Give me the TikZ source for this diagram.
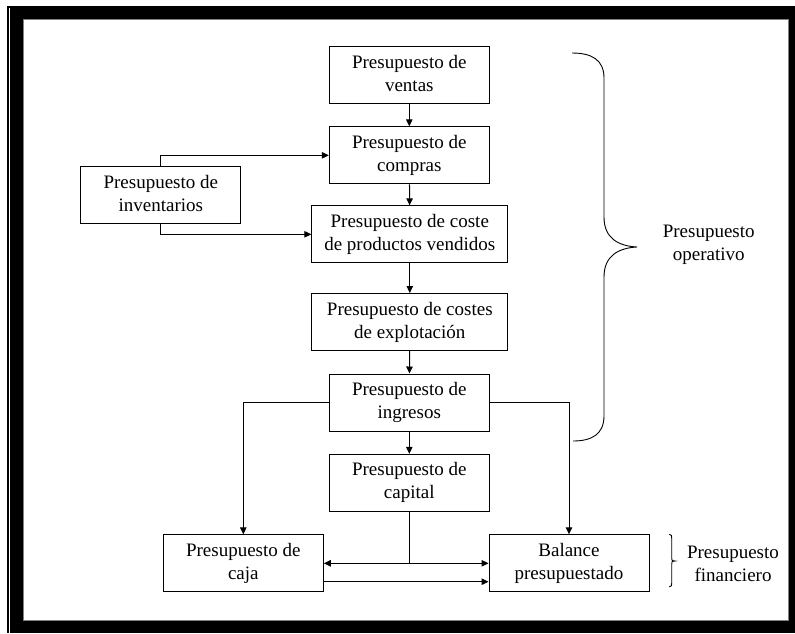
\documentclass[tikz,border=0pt]{standalone}
\usepackage{fontspec}
\setmainfont{Liberation Serif}
\usetikzlibrary{arrows.meta,calc}
\begin{document}
\begin{tikzpicture}[x=1pt,y=-1pt,
  box/.style={draw=black, line width=1pt, minimum width=160pt, minimum height=57pt,
    inner sep=0pt, align=center, font=\fontsize{19}{23}\selectfont,
    execute at end node=\vphantom{p}},
  widebox/.style={box, minimum width=196pt},
  link/.style={draw=black, line width=1pt},
  arr/.style={link, -{Triangle[length=7pt,width=6.5pt]}},
  bracket/.style={draw=black, line width=0.9pt},
  sidetext/.style={align=center, inner sep=0pt, font=\fontsize{19}{23}\selectfont,
    execute at end node=\vphantom{p}}]
\useasboundingbox (0,0) rectangle (795,633);
% frame
\fill[white] (0,0) rectangle (795,633);
\fill[black] (7,6) rectangle (795,633);
\fill[white] (9,8) rectangle (10,633);
\fill[white] (23,19) rectangle (789,621);
\draw[gray, line width=1pt] (23.5,19.5) rectangle (788.5,620.5);

% boxes
\node[box] (ventas) at (409.3,75.3) {Presupuesto de\\ventas};
\node[box] (compras) at (409.3,155.3) {Presupuesto de\\compras};
\node[box] (invent) at (160.8,195.2) {Presupuesto de\\inventarios};
\node[widebox] (coste) at (409.8,234.3) {Presupuesto de coste\\de productos vendidos};
\node[widebox] (explot) at (409.8,322) {Presupuesto de costes\\de explotación};
\node[box] (ingresos) at (409.3,402.5) {Presupuesto de\\ingresos};
\node[box] (capital) at (409.3,482.8) {Presupuesto de\\capital};
\node[box] (caja) at (243.3,563.3) {Presupuesto de\\caja};
\node[box] (balance) at (569,563.3) {Balance\\presupuestado};

% main chain
\draw[arr] (ventas) -- (compras);
\draw[arr] (compras) -- (coste);
\draw[arr] (coste) -- (explot);
\draw[arr] (explot) -- (ingresos);
\draw[arr] (ingresos) -- (capital);

% inventory feeds
\draw[arr] (invent.north) |- (compras.west);
\draw[arr] (invent.south) |- (coste.west);

% income to cash and balance
\draw[arr] (ingresos.west) -| (caja.north);
\draw[arr] (ingresos.east) -| (balance.north);

% capital split
\coordinate (split) at (capital.south |- caja.east);
\draw[link] (capital.south) -- (split);
\draw[arr] (split) -- (caja.east);
\draw[arr] (split) -- (balance.west);

% cash to balance
\coordinate (cajaout) at ($(caja.east)+(0,18.4)$);
\draw[arr] (cajaout) -- (cajaout -| balance.west);

% operating budget brace
\draw[bracket] (572,53) .. controls (592,53) and (604,60) .. (604,78)
  -- (604,217) .. controls (604,238) and (618,246) .. (637,247)
  .. controls (618,248) and (604,256) .. (604,277)
  -- (604,416) .. controls (604,434) and (592,441) .. (573,441);
\node[sidetext] (oper) at (708.7,244.6) {Presupuesto\\operativo};

% financial budget brace
\draw[bracket] (669.3,534.3) .. controls (671.7,535) .. (671.7,538.3)
  -- (671.7,558.3) .. controls (671.7,560.5) .. (675,561)
  .. controls (671.7,561.5) .. (671.7,564)
  -- (671.7,583.3) .. controls (671.7,586) .. (669.3,586.7);
\node[sidetext] (finan) at (733,565.6) {Presupuesto\\financiero};
\end{tikzpicture}
\end{document}
